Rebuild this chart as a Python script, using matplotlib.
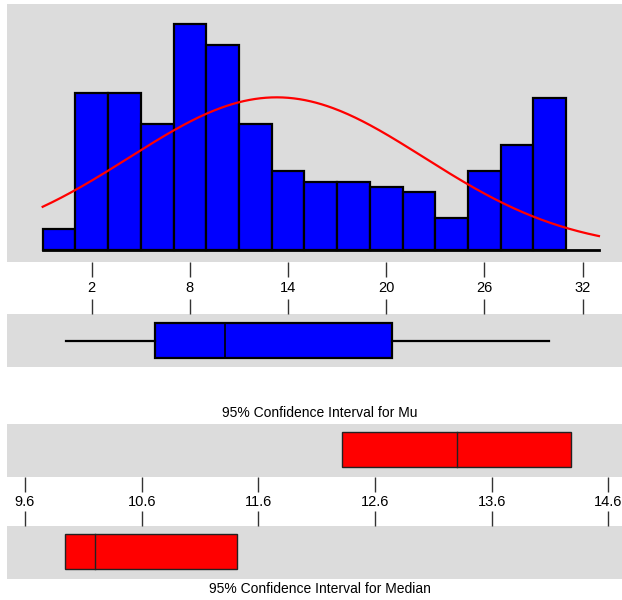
import numpy as np
import matplotlib
matplotlib.use("Agg")
import matplotlib.pyplot as plt

# histogram counts per bin (bin width 2)
bin_centers = [0, 2, 4, 6, 8, 10, 12, 14, 16, 18, 20, 22, 24, 26, 28, 30]
counts = [4, 30, 30, 24, 43, 39, 24, 15, 13, 13, 12, 11, 6, 15, 20, 29]
bin_width = 2

# summary statistics
mean_val = 13.3
sd_val = 9.0
box_stats = dict(whislo=0.45, q1=5.86, med=10.17, q3=20.36, whishi=29.94)

# 95% confidence intervals (low, centre, high)
ci_mu = [12.32, 13.30, 14.28]
ci_median = [9.94, 10.20, 11.42]

hist_ticks = [2, 8, 14, 20, 26, 32]
ci_ticks = [9.6, 10.6, 11.6, 12.6, 13.6, 14.6]

W, H = 622, 600
grey = "#DCDCDC"
plt.rcParams["font.family"] = ["Liberation Sans", "DejaVu Sans"]

fig = plt.figure(figsize=(W / 100, H / 100), dpi=100)


def px_axes(x0, y0, x1, y1):
    ax = fig.add_axes([x0 / W, 1 - y1 / H, (x1 - x0) / W, (y1 - y0) / H])
    ax.set_facecolor(grey)
    for s in ax.spines.values():
        s.set_visible(False)
    return ax


# histogram with normal curve
ax1 = px_axes(7, 4, 622, 262)
ax1.bar(bin_centers, counts, width=bin_width, color="#0000FF",
        edgecolor="black", linewidth=1.6, zorder=2)
lo = bin_centers[0] - bin_width / 2
xs = np.linspace(lo, 33, 300)
scale = sum(counts) * bin_width / (sd_val * np.sqrt(2 * np.pi))
ax1.plot(xs, scale * np.exp(-0.5 * ((xs - mean_val) / sd_val) ** 2),
         color="red", lw=1.6, zorder=3)
ax1.plot([lo, 33], [0, 0], color="black", lw=2, zorder=2)
ax1.set_xlim(-3.18, 34.41)
ax1.set_ylim(-2.29, 46.86)
ax1.set_yticks([])
ax1.set_xticks(hist_ticks)
ax1.set_xticklabels([str(t) for t in hist_ticks])
ax1.tick_params(axis="x", direction="out", length=11, width=1,
                color="#333333", labelsize=10.5, pad=3)

# boxplot
ax2 = px_axes(7, 314, 622, 367)
ax2.bxp([box_stats], orientation="horizontal", widths=0.65, showcaps=False,
        showfliers=False, patch_artist=True,
        boxprops=dict(facecolor="#0000FF", edgecolor="black", lw=1.6),
        whiskerprops=dict(color="black", lw=1.6),
        medianprops=dict(color="black", lw=1.2))
ax2.set_xlim(-3.18, 34.41)
ax2.set_ylim(0.5, 1.5)
ax2.set_yticks([])
ax2.set_xticks(hist_ticks)
ax2.tick_params(axis="x", bottom=False, top=True, labelbottom=False,
                direction="out", length=11, width=1, color="#333333")


def ci_box(ax, ci):
    ax.barh(1, ci[2] - ci[0], left=ci[0], height=0.65, color="red",
            edgecolor="#222222", linewidth=1)
    ax.plot([ci[1], ci[1]], [1 - 0.325, 1 + 0.325], color="#222222", lw=1)
    ax.set_xlim(9.446, 14.717)
    ax.set_ylim(0.48, 1.48)
    ax.set_yticks([])
    ax.set_xticks(ci_ticks)


ax3 = px_axes(7, 424, 622, 477)
ci_box(ax3, ci_mu)
ax3.set_xticklabels([f"{t:.1f}" for t in ci_ticks])
ax3.tick_params(axis="x", direction="out", length=11, width=1,
                color="#333333", labelsize=10.5, pad=2)

ax4 = px_axes(7, 526, 622, 579)
ci_box(ax4, ci_median)
ax4.tick_params(axis="x", bottom=False, top=True, labelbottom=False,
                direction="out", length=11, width=1, color="#333333")

fig.text(319.5 / W, 1 - 413 / H, "95% Confidence Interval for Mu",
         ha="center", va="center", fontsize=10)
fig.text(319.5 / W, 1 - 589 / H, "95% Confidence Interval for Median",
         ha="center", va="center", fontsize=10)

fig.savefig("out.png", dpi=100)
